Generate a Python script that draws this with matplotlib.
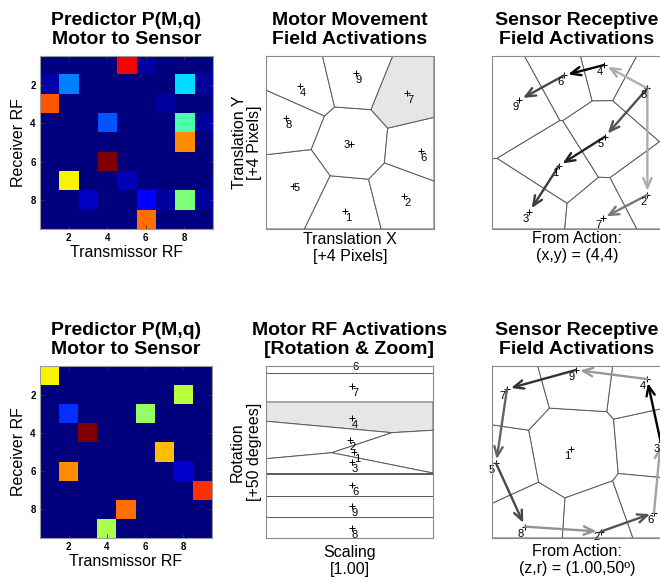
import numpy as np
import matplotlib
matplotlib.use('Agg')
import matplotlib.pyplot as plt
from matplotlib.patches import Polygon

plt.rcParams['font.family'] = ['Liberation Sans', 'DejaVu Sans']

# ---------------- data ----------------
rf_ticks = [2, 4, 6, 8]

# Predictor P(M,q): rows = receiver RF 1..9, cols = transmissor RF 1..9
pred_translation = [
    [0, 0, 0, 0, 0.90, 0.03, 0, 0, 0],
    [0.04, 0.25, 0, 0, 0, 0, 0, 0.34, 0.03],
    [0.82, 0, 0, 0, 0, 0, 0.03, 0, 0],
    [0, 0, 0, 0.21, 0, 0, 0, 0.445, 0.03],
    [0, 0, 0, 0, 0, 0, 0, 0.76, 0],
    [0, 0, 0, 1.0, 0, 0, 0, 0, 0],
    [0, 0.65, 0, 0, 0.05, 0, 0, 0, 0],
    [0, 0, 0.06, 0, 0, 0.11, 0.03, 0.50, 0.03],
    [0, 0, 0, 0, 0, 0.79, 0, 0, 0],
]
pred_rotation = [
    [0.65, 0, 0, 0, 0, 0, 0, 0, 0],
    [0, 0, 0, 0, 0, 0, 0, 0.575, 0],
    [0, 0.175, 0, 0, 0, 0.53, 0, 0, 0],
    [0, 0, 1.0, 0, 0, 0, 0, 0, 0],
    [0, 0, 0, 0, 0, 0, 0.71, 0, 0],
    [0, 0.76, 0, 0, 0, 0, 0, 0.07, 0],
    [0, 0, 0, 0, 0, 0, 0, 0, 0.856],
    [0, 0, 0, 0, 0.79, 0, 0, 0, 0],
    [0, 0, 0, 0.557, 0, 0, 0, 0, 0],
]

# Motor RF centres (translation), labels 1..9
motor_tr_labels = ['1', '2', '3', '4', '5', '6', '7', '8', '9']
motor_tr_x = [0.470, 0.823, 0.506, 0.202, 0.163, 0.921, 0.841, 0.117, 0.536]
motor_tr_y = [0.106, 0.193, 0.491, 0.827, 0.250, 0.453, 0.784, 0.640, 0.904]
motor_tr_active = '7'

# Motor RF centres (rotation & zoom)
motor_rz_labels = ['6', '7', '4', '2', '1', '3', '6', '9', '8']
motor_rz_x = [0.515, 0.515, 0.515, 0.503, 0.527, 0.515, 0.515, 0.515, 0.515]
motor_rz_y = [1.035, 0.884, 0.698, 0.570, 0.500, 0.442, 0.308, 0.186, 0.058]
motor_rz_active = 2

# Sensor RF centres, labels 1..9
sensor_labels = ['1', '2', '3', '4', '5', '6', '7', '8', '9']
sensor_tr_x = [0.394, 0.914, 0.220, 0.659, 0.665, 0.424, 0.651, 0.914, 0.161]
sensor_tr_y = [0.366, 0.197, 0.100, 0.948, 0.534, 0.888, 0.062, 0.813, 0.746]
sensor_rz_x = [0.465, 0.639, 0.992, 0.912, 0.024, 0.953, 0.088, 0.194, 0.494]
sensor_rz_y = [0.516, 0.037, 0.560, 0.924, 0.434, 0.147, 0.866, 0.066, 0.977]

titles_pred = 'Predictor P(M,q)\nMotor to Sensor'
title_motor_tr = 'Motor Movement\nField Activations'
title_motor_rz = 'Motor RF Activations\n[Rotation & Zoom]'
title_sensor = 'Sensor Receptive\nField Activations'
xlabel_tr = 'Translation X\n[+4 Pixels]'
ylabel_tr = 'Translation Y\n[+4 Pixels]'
xlabel_rz = 'Scaling\n[1.00]'
ylabel_rz = 'Rotation\n[+50 degrees]'
action_tr = 'From Action:\n(x,y) = (4,4)'
action_rz = 'From Action:\n(z,r) = (1.00,50º)'

# ---------------- helpers ----------------
W, H = 660, 583
fig = plt.figure(figsize=(W / 100, H / 100), dpi=100)

TITLE_KW = dict(fontsize=14, fontweight='bold', pad=8.5, linespacing=1.2)


def px_axes(x0, y0, x1, y1):
    return fig.add_axes([x0 / W, (H - y1) / H, (x1 - x0) / W, (y1 - y0) / H])


def clip(poly, a, b, c):
    out = []
    n = len(poly)
    for k in range(n):
        P = poly[k]
        Q = poly[(k + 1) % n]
        fp = a * P[0] + b * P[1] - c
        fq = a * Q[0] + b * Q[1] - c
        if fp <= 0:
            out.append(P)
        if fp * fq < 0:
            t = fp / (fp - fq)
            out.append((P[0] + t * (Q[0] - P[0]), P[1] + t * (Q[1] - P[1])))
    return out


def voronoi_cells(xs, ys, sx, sy):
    pts = np.column_stack([np.asarray(xs) * sx, np.asarray(ys) * sy])
    box = [(0, 0), (sx, 0), (sx, sy), (0, sy)]
    cells = []
    for i, p in enumerate(pts):
        poly = box
        for j, q in enumerate(pts):
            if i == j:
                continue
            d = q - p
            m = (p + q) / 2
            poly = clip(poly, d[0], d[1], float(d @ m))
            if not poly:
                break
        cells.append([(x / sx, y / sy) for x, y in poly])
    return cells


def voronoi_panel(ax, xs, ys, labels, active, offset, overrides=None):
    bb = ax.get_position()
    sx, sy = bb.width * W, bb.height * H
    cells = voronoi_cells(xs, ys, sx, sy)
    for i, cell in enumerate(cells):
        if len(cell) < 3:
            continue
        fc = '#e6e6e6' if i == active else 'white'
        ax.add_patch(Polygon(cell, closed=True, facecolor=fc,
                             edgecolor='#5a5a5a', lw=0.7, zorder=1))
    ax.plot(xs, ys, '+', color='black', ms=4, mew=0.7, zorder=3, clip_on=True)
    for i, (x, y, lab) in enumerate(zip(xs, ys, labels)):
        off = offset
        if overrides and i in overrides:
            off = overrides[i]
        ax.annotate(lab, (x, y), xytext=off, textcoords='offset pixels',
                    ha='center', va='center', fontsize=8, zorder=4,
                    annotation_clip=False)
    ax.set_xlim(0, 1)
    ax.set_ylim(0, 1)
    ax.set_xticks([])
    ax.set_yticks([])
    for s in ax.spines.values():
        s.set_color('#8a8a8a')
        s.set_linewidth(0.8)
        s.set_zorder(5)


def arrows(ax, xs, ys, mat):
    m = np.asarray(mat)
    items = []
    for r in range(9):
        for t in range(9):
            v = m[r, t]
            if r != t and v > 0.3:
                items.append((v, r, t))
    items.sort()
    for v, r, t in items:
        g = min(0.68, 1.35 * (1 - v))
        col = (g, g, g)
        ax.annotate('', xy=(xs[r], ys[r]), xytext=(xs[t], ys[t]),
                    arrowprops=dict(arrowstyle='->,head_length=0.7,head_width=0.3',
                                    color=col, lw=1.7, shrinkA=0, shrinkB=3,
                                    mutation_scale=10),
                    zorder=3, annotation_clip=False)


def heat_panel(ax, mat):
    ax.imshow(np.asarray(mat), cmap='jet', vmin=0, vmax=1, aspect='auto',
              interpolation='nearest', extent=(0.5, 9.5, 9.5, 0.5))
    ax.set_xticks(rf_ticks)
    ax.set_yticks(rf_ticks)
    ax.tick_params(direction='in', length=3, width=0.6, top=True, right=True,
                   labelsize=7, pad=3, color='#333333')
    for lab in ax.get_xticklabels() + ax.get_yticklabels():
        lab.set_fontweight('bold')
    ax.set_xlabel('Transmissor RF', fontsize=11.5, labelpad=1)
    ax.set_ylabel('Receiver RF', fontsize=11.5, labelpad=3)
    ax.set_title(titles_pred, **TITLE_KW)
    for s in ax.spines.values():
        s.set_color('#999999')
        s.set_linewidth(0.8)


# ---------------- top row ----------------
ax1 = px_axes(40, 56, 213, 229)
heat_panel(ax1, pred_translation)

ax2 = px_axes(266, 56, 434, 229)
voronoi_panel(ax2, motor_tr_x, motor_tr_y, motor_tr_labels,
              motor_tr_labels.index(motor_tr_active), (3, -7),
              overrides={2: (-4, -1), 4: (3, -2)})
ax2.set_title(title_motor_tr, **TITLE_KW)
ax2.set_xlabel(xlabel_tr, fontsize=11.5, labelpad=2, linespacing=1.15)
ax2.set_ylabel(ylabel_tr, fontsize=11.5, labelpad=3, linespacing=1.0)

ax3 = px_axes(492, 56, 662, 229)
voronoi_panel(ax3, sensor_tr_x, sensor_tr_y, sensor_labels, -1, (-4, -7))
arrows(ax3, sensor_tr_x, sensor_tr_y, pred_translation)
ax3.set_title(title_sensor, **TITLE_KW)
ax3.set_xlabel(action_tr, fontsize=11.5, labelpad=1.5, linespacing=1.15)

# ---------------- bottom row ----------------
ax4 = px_axes(40, 366, 212, 538)
heat_panel(ax4, pred_rotation)

ax5 = px_axes(266, 366, 433, 538)
voronoi_panel(ax5, motor_rz_x, motor_rz_y, motor_rz_labels, motor_rz_active, (3, -7))
ax5.set_title(title_motor_rz, **TITLE_KW)
ax5.set_xlabel(xlabel_rz, fontsize=11.5, labelpad=5, linespacing=1.15)
ax5.set_ylabel(ylabel_rz, fontsize=11.5, labelpad=3)

ax6 = px_axes(492, 366, 662, 538)
voronoi_panel(ax6, sensor_rz_x, sensor_rz_y, sensor_labels, -1, (-4, -7),
              overrides={1: (-4, -5)})
arrows(ax6, sensor_rz_x, sensor_rz_y, pred_rotation)
ax6.set_title(title_sensor, **TITLE_KW)
ax6.set_xlabel(action_rz, fontsize=11.5, labelpad=4.5, linespacing=1.15)

fig.savefig('out.png', dpi=100, facecolor='white')
